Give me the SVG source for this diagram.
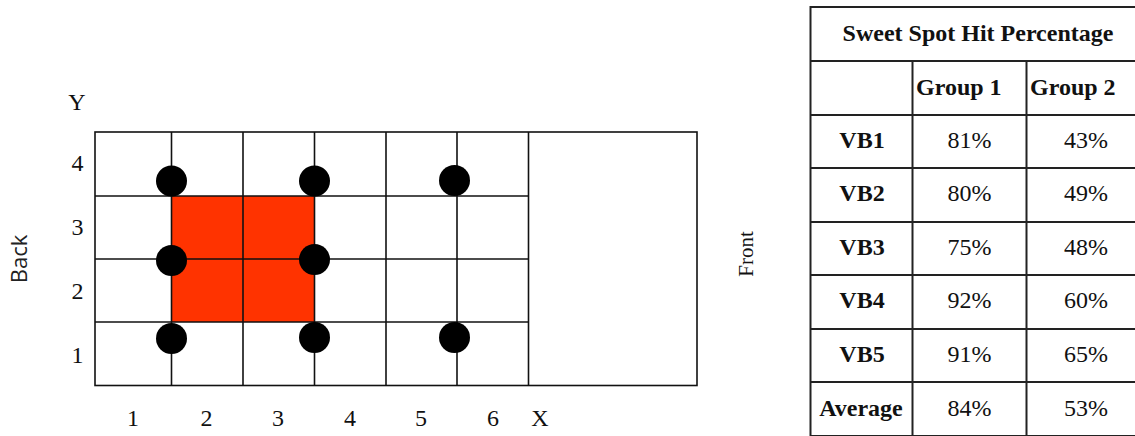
<svg xmlns="http://www.w3.org/2000/svg" width="1135" height="436" viewBox="0 0 1135 436">
<style>
.t{font-family:"Liberation Serif","Times New Roman",serif;font-size:24px;fill:#111}
.b{font-weight:bold}
.m{text-anchor:middle}
.g{stroke:#111;stroke-width:1.6;fill:none}
.tb{stroke:#222;stroke-width:2;fill:none}
.dot{fill:#000}
</style>
<rect width="1135" height="436" fill="#fff"/>
<g id="court">
<rect x="171.5" y="196" width="143" height="126" fill="#ff3300"/>
<rect class="g" x="95" y="132" width="602" height="253.5"/>
<line class="g" x1="95" y1="196" x2="528.5" y2="196"/>
<line class="g" x1="95" y1="259" x2="528.5" y2="259"/>
<line class="g" x1="95" y1="322" x2="528.5" y2="322"/>
<line class="g" x1="171.5" y1="132" x2="171.5" y2="385.5"/>
<line class="g" x1="243" y1="132" x2="243" y2="385.5"/>
<line class="g" x1="314.5" y1="132" x2="314.5" y2="385.5"/>
<line class="g" x1="386" y1="132" x2="386" y2="385.5"/>
<line class="g" x1="457" y1="132" x2="457" y2="385.5"/>
<line class="g" x1="528.5" y1="132" x2="528.5" y2="385.5"/>
</g>
<g id="dots">
<circle class="dot" cx="171.5" cy="181" r="15.5"/>
<circle class="dot" cx="314.5" cy="181" r="15.5"/>
<circle class="dot" cx="454.5" cy="180.5" r="15.5"/>
<circle class="dot" cx="171.5" cy="260.5" r="15.5"/>
<circle class="dot" cx="314.5" cy="259.5" r="15.5"/>
<circle class="dot" cx="171.5" cy="338.5" r="15.5"/>
<circle class="dot" cx="314.5" cy="337.5" r="15.5"/>
<circle class="dot" cx="454.5" cy="337.5" r="15.5"/>
</g>
<g id="axis-labels">
<text class="t m" x="77" y="110">Y</text>
<text class="t m" x="77.5" y="171">4</text>
<text class="t m" x="77.5" y="235">3</text>
<text class="t m" x="77.5" y="299">2</text>
<text class="t m" x="77.5" y="363">1</text>
<text class="t m" x="133" y="426">1</text>
<text class="t m" x="206.5" y="426">2</text>
<text class="t m" x="278" y="426">3</text>
<text class="t m" x="350" y="426">4</text>
<text class="t m" x="421" y="426">5</text>
<text class="t m" x="493" y="426">6</text>
<text class="t m" x="540" y="426">X</text>
<text x="0" y="0" transform="translate(27,259) rotate(-90)" text-anchor="middle" font-family="'Open Sans','Liberation Sans',sans-serif" font-size="22" fill="#222">Back</text>
<text class="t m" x="0" y="0" transform="translate(753,254) rotate(-90)" style="font-size:21px">Front</text>
</g>
<g id="table">
<rect class="tb" x="810.5" y="7" width="340" height="429"/>
<line class="tb" x1="810.5" y1="61" x2="1140" y2="61"/>
<line class="tb" x1="810.5" y1="115" x2="1140" y2="115"/>
<line class="tb" x1="810.5" y1="168" x2="1140" y2="168"/>
<line class="tb" x1="810.5" y1="222" x2="1140" y2="222"/>
<line class="tb" x1="810.5" y1="275" x2="1140" y2="275"/>
<line class="tb" x1="810.5" y1="329" x2="1140" y2="329"/>
<line class="tb" x1="810.5" y1="382" x2="1140" y2="382"/>
<line class="tb" x1="912.5" y1="61" x2="912.5" y2="436"/>
<line class="tb" x1="1026.5" y1="61" x2="1026.5" y2="436"/>
<text class="t b m" x="978" y="41">Sweet Spot Hit Percentage</text>
<text class="t b" x="916" y="95">Group 1</text>
<text class="t b" x="1030" y="95">Group 2</text>
<text class="t b m" x="862" y="148">VB1</text>
<text class="t m" x="969.5" y="148">81%</text>
<text class="t m" x="1086" y="148">43%</text>
<text class="t b m" x="862" y="201">VB2</text>
<text class="t m" x="969.5" y="201">80%</text>
<text class="t m" x="1086" y="201">49%</text>
<text class="t b m" x="862" y="255">VB3</text>
<text class="t m" x="969.5" y="255">75%</text>
<text class="t m" x="1086" y="255">48%</text>
<text class="t b m" x="862" y="308">VB4</text>
<text class="t m" x="969.5" y="308">92%</text>
<text class="t m" x="1086" y="308">60%</text>
<text class="t b m" x="862" y="362">VB5</text>
<text class="t m" x="969.5" y="362">91%</text>
<text class="t m" x="1086" y="362">65%</text>
<text class="t b m" x="861" y="416">Average</text>
<text class="t m" x="969.5" y="416">84%</text>
<text class="t m" x="1086" y="416">53%</text>
</g>
</svg>
